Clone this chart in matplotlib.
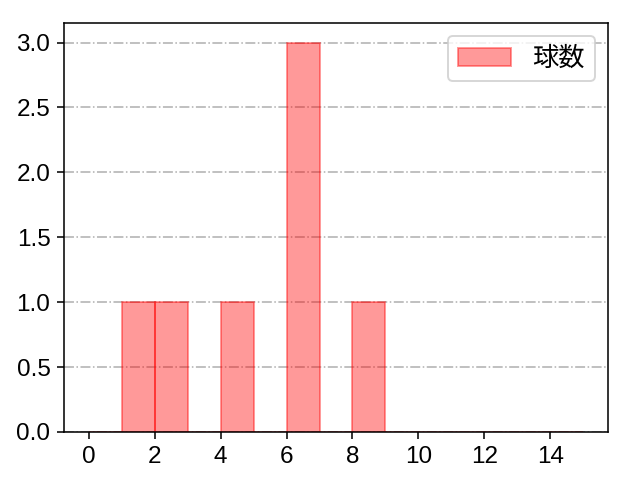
import matplotlib
matplotlib.use('Agg')
import matplotlib.pyplot as plt
import numpy as np

# 数字は Arial 風、漢字は CJK フォントにフォールバック
plt.rcParams['font.family'] = ['Liberation Sans', 'Noto Sans CJK JP']

# 球数ごとの値 (ヒストグラム用)
pitch_values = [1, 2, 4, 6, 6, 6, 8]
bin_edges = list(range(0, 16))
legend_label = '球数'

# 640x480 px を dpi 140 で描く
fig, ax = plt.subplots(figsize=(640 / 140, 480 / 140), dpi=140)
ax.hist(pitch_values, bins=bin_edges, color='red', alpha=0.4,
        edgecolor='red', linewidth=1, label=legend_label)
ax.set_xticks(np.arange(0, 15, 2))
ax.grid(axis='y', linestyle='-.', color='#b0b0b0', linewidth=0.8)
ax.set_axisbelow(True)
ax.tick_params(labelsize=12.5)
ax.legend(loc='upper right', fontsize=13.5)

fig.subplots_adjust(left=0.1, right=0.95, top=0.952, bottom=0.1)
fig.savefig('out.png', dpi=140)
